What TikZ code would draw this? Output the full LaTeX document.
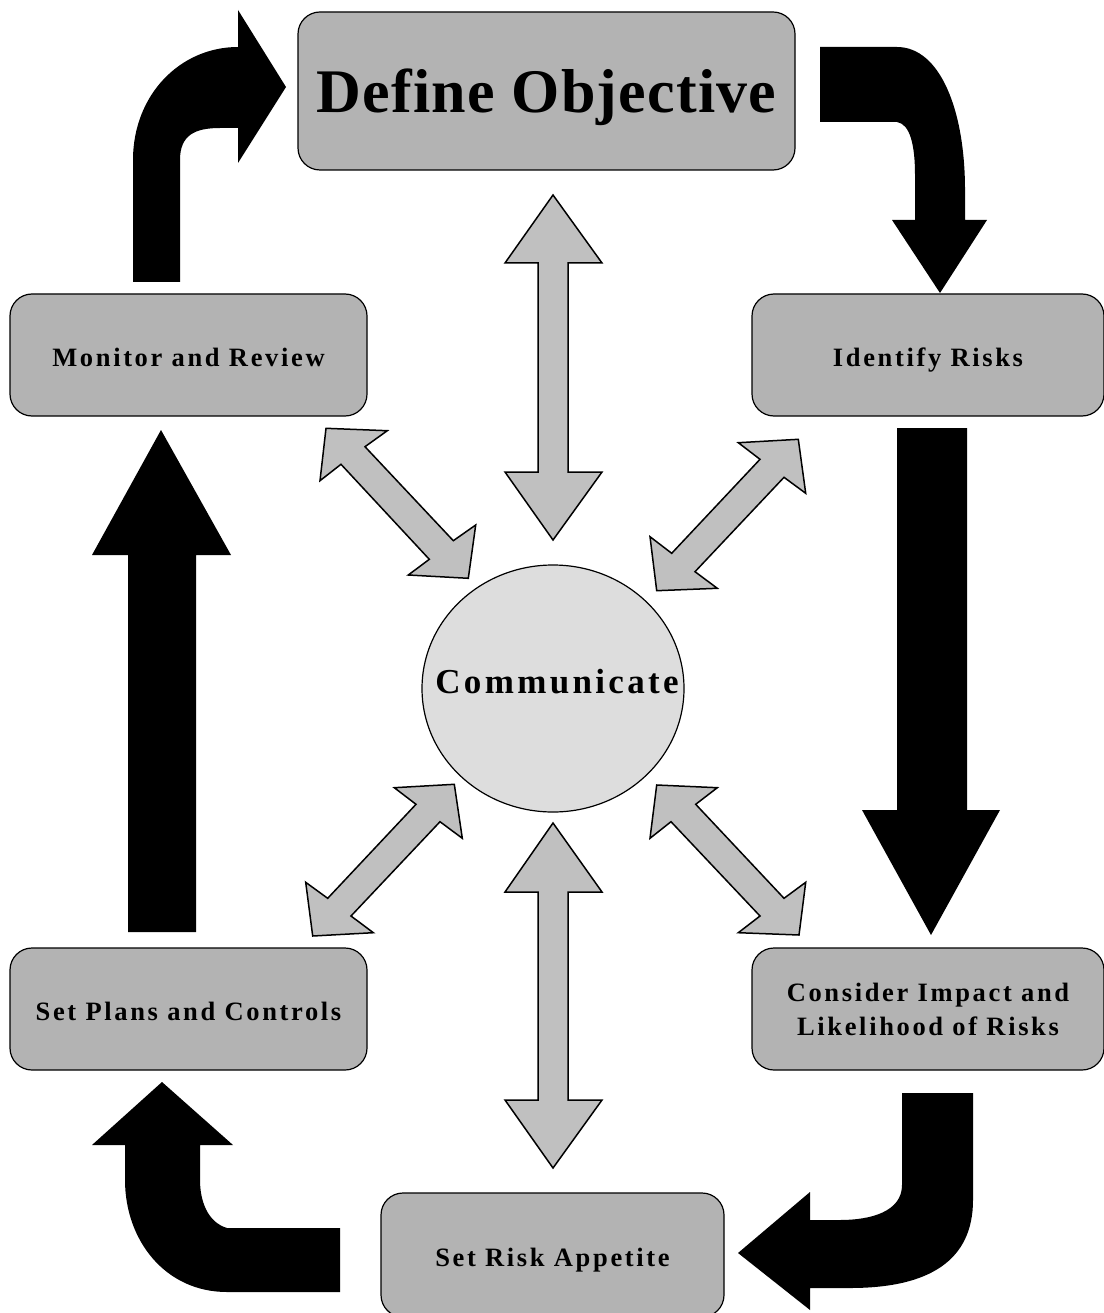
\documentclass[tikz,border=0pt]{standalone}
\usepackage{fontspec}
\setmainfont{Liberation Serif}
\usetikzlibrary{shapes.geometric}
\definecolor{boxgray}{RGB}{179,179,179}
\definecolor{arrgray}{RGB}{192,192,192}
\definecolor{ellgray}{RGB}{221,221,221}
\begin{document}
\begin{tikzpicture}[x=1pt,y=-1pt,
  box/.style={draw=black, line width=1.2pt, fill=boxgray, rounded corners=22pt,
    inner sep=0pt, align=center,
    font=\bfseries\fontsize{26.5}{34}\selectfont\addfontfeature{LetterSpace=10}},
  onebox/.style={box, text height=22pt, text depth=0pt},
  bigbox/.style={box, text height=43pt, text depth=0pt,
    font=\bfseries\fontsize{62}{70}\selectfont\addfontfeature{LetterSpace=2}},
  commell/.style={ellipse, draw=black, line width=1.2pt, fill=ellgray, inner sep=0pt},
  commtext/.style={inner sep=0pt, text height=24pt, text depth=15pt,
    font=\bfseries\fontsize{35}{40}\selectfont\addfontfeature{LetterSpace=9.5}},
  blk/.style={fill=black, draw=none},
  dbl/.style={fill=arrgray, draw=black, line width=1.5pt, line join=miter}]
\useasboundingbox (0,0) rectangle (1103,1313);
\fill[white] (0,0) rectangle (1103,1313);

% nodes
\node[bigbox, minimum width=497pt, minimum height=158pt] (def) at (546.5,91) {Define Objective};
\node[onebox, minimum width=357pt, minimum height=122pt] (mon) at (188.5,355) {Monitor and Review};
\node[onebox, minimum width=352pt, minimum height=122pt] (idr) at (928,355) {Identify Risks};
\node[onebox, minimum width=357pt, minimum height=122pt] (spc) at (188.5,1009) {Set Plans and Controls};
\node[box, minimum width=352pt, minimum height=122pt] (cil) at (928,1009) {Consider Impact and\\Likelihood of Risks};
\node[onebox, minimum width=343pt, minimum height=124pt] (sra) at (552.5,1255) {Set Risk Appetite};
\node[commell, minimum width=262pt, minimum height=247pt] (com) at (553,688.5) {};
\node[commtext] (comtxt) at ([xshift=4pt]com.center) {Communicate};

% black bent arrow: monitor -> define
\path[blk] (133,282) -- (133,160) .. controls (133,95) and (180,47) .. (238,47)
  -- (238,10) -- (286,87) -- (238,163) -- (238,128) -- (220,128)
  .. controls (195,128) and (180,135) .. (180,160) -- (180,282) -- cycle;
% define -> identify
\path[blk] (820,47) -- (897,47) .. controls (940,47) and (965,110) .. (965,190)
  -- (965,220) -- (987,220) -- (940,293) -- (892,220) -- (915,220) -- (915,175)
  .. controls (915,145) and (910,124) .. (897,122) -- (820,122) -- cycle;
% identify -> consider
\path[blk] (897,428) -- (967,428) -- (967,810) -- (1000,810) -- (931,935) -- (862,810) -- (897,810) -- cycle;
% consider -> appetite
\path[blk] (902,1093) -- (973,1093) -- (973,1200) .. controls (973,1260) and (930,1288) .. (850,1288)
  -- (810,1288) -- (810,1310) -- (738,1253) -- (810,1192) -- (810,1220) -- (840,1220)
  .. controls (870,1220) and (902,1212) .. (902,1185) -- cycle;
% appetite -> plans
\path[blk] (340,1228) -- (227,1228) .. controls (207,1222) and (200,1200) .. (200,1180)
  -- (200,1145) -- (233,1145) -- (162,1082) -- (92,1145) -- (125,1145) -- (125,1180)
  .. controls (125,1240) and (165,1292) .. (227,1292) -- (340,1292) -- cycle;
% plans -> monitor
\path[blk] (128,932) -- (196,932) -- (196,555) -- (231,555) -- (161,430) -- (92,555) -- (128,555) -- cycle;

% gray double arrows
\draw[dbl] (553,195) -- (602,263) -- (568,263) -- (568,472) -- (602,472) -- (553,540)
  -- (505,472) -- (538,472) -- (538,263) -- (505,263) -- cycle;
\draw[dbl] (553,823) -- (602,892) -- (568,892) -- (568,1100) -- (602,1100) -- (553,1168)
  -- (505,1100) -- (538,1100) -- (538,892) -- (505,892) -- cycle;
\draw[dbl] (326.0,428.3) -- (387.3,430.7) -- (365,446.7) -- (453.3,540.7) -- (475.7,525)
  -- (468.3,578.3) -- (408.3,575) -- (429.3,559.3) -- (341,464.3) -- (320,480.7) -- cycle;
\draw[dbl] (798.3,439.3) -- (738.3,442.7) -- (760,459.3) -- (671.7,553.3) -- (650,536.7)
  -- (656.7,590.7) -- (717.3,588.3) -- (695,571.7) -- (784,477.3) -- (805.7,493.3) -- cycle;
\draw[dbl] (454.3,784.3) -- (394.3,787.7) -- (416,804.3) -- (327.7,898.3) -- (305.7,882.3)
  -- (312.7,936) -- (373.3,932.7) -- (351,916) -- (440,821.7) -- (462.3,838.3) -- cycle;
\draw[dbl] (656.7,785) -- (717.3,787.7) -- (695.7,804.3) -- (784,898.3) -- (805.7,882.3)
  -- (799,935) -- (738.3,932.7) -- (760,916) -- (671,821.7) -- (650,838.3) -- cycle;
\end{tikzpicture}
\end{document}
